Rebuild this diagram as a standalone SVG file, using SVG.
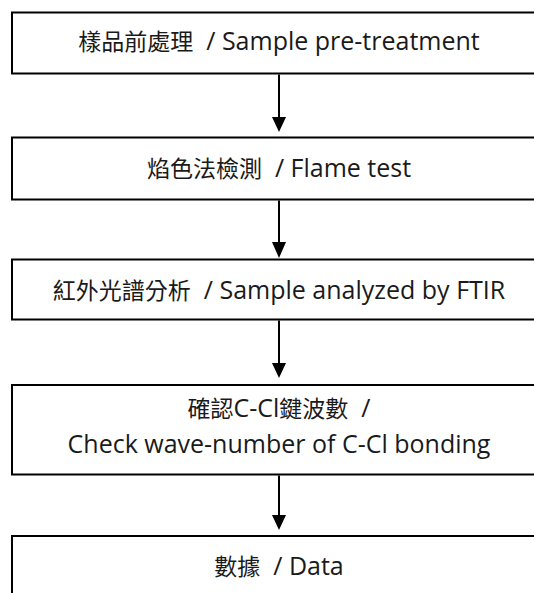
<svg xmlns="http://www.w3.org/2000/svg" width="534" height="593" viewBox="0 0 534 593">
<style>
.box{fill:#fff;stroke:#000;stroke-width:2}
.lbl{font-family:"Open Sans","Noto Sans CJK TC",sans-serif;font-size:25px;fill:#1a1a1a;text-anchor:middle;white-space:pre}
.cjk{font-family:"Noto Sans CJK TC",sans-serif;font-size:23px}
.conn line{stroke:#000;stroke-width:2}
.conn polygon{fill:#000}
</style>
<rect width="534" height="593" fill="#fff"/>
<g id="node1"><rect class="box" x="12" y="12.5" width="540" height="61"/><text class="lbl" x="279" y="50" xml:space="preserve"><tspan class="cjk">樣品前處理</tspan>  / Sample pre-treatment</text></g>
<g id="node2"><rect class="box" x="12" y="137.5" width="540" height="62"/><text class="lbl" x="279" y="177" xml:space="preserve"><tspan class="cjk">焰色法檢測</tspan>  / Flame test</text></g>
<g id="node3"><rect class="box" x="12" y="259.5" width="540" height="60"/><text class="lbl" x="279" y="298.5" xml:space="preserve"><tspan class="cjk">紅外光譜分析</tspan>  / Sample analyzed by FTIR</text></g>
<g id="node4"><rect class="box" x="12" y="385" width="540" height="89.5"/><text class="lbl" x="279" y="417" xml:space="preserve"><tspan class="cjk">確認</tspan>C-Cl<tspan class="cjk">鍵波數</tspan>  /</text><text class="lbl" x="279" y="453">Check wave-number of C-Cl bonding</text></g>
<g id="node5"><rect class="box" x="12" y="536" width="540" height="100"/><text class="lbl" x="279" y="575" xml:space="preserve"><tspan class="cjk">數據</tspan>  / Data</text></g>
<g id="connectors" class="conn">
<line x1="279" y1="74.5" x2="279" y2="118"/><polygon points="272,117 286,117 279,132"/>
<line x1="279" y1="200.5" x2="279" y2="243"/><polygon points="272,242 286,242 279,258"/>
<line x1="279" y1="320.5" x2="279" y2="364"/><polygon points="272,363 286,363 279,378"/>
<line x1="279" y1="475.5" x2="279" y2="516"/><polygon points="272,515 286,515 279,530"/>
</g>
</svg>
